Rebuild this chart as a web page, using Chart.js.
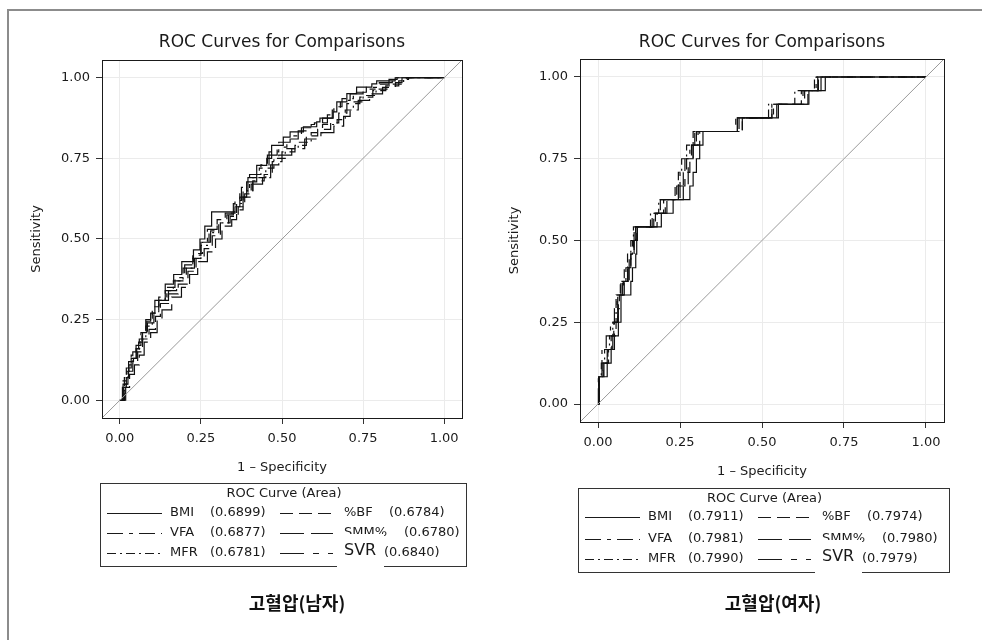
<!DOCTYPE html>
<html>
<head>
<meta charset="utf-8">
<script src="https://cdn.jsdelivr.net/npm/chart.js@4.4.0/dist/chart.umd.min.js"></script>
<style>
    html, body { margin: 0; padding: 0; background: #fff; }
    body { width: 982px; height: 640px; position: relative; overflow: hidden; }
    .frame { position: absolute; left: 7px; top: 9px; width: 1000px; height: 700px; border: 2px solid #8c8c8c; }
    canvas { position: absolute; top: 0; }
    #menChart { left: 0; }
    #womenChart { left: 491px; }
</style>
</head>
<body>
<div class="frame"></div>
<canvas id="menChart" width="491" height="640"></canvas>
<canvas id="womenChart" width="491" height="640"></canvas>
<script>
// series order: BMI, VFA, MFR (left legend column), %BF, SMM%, SVR (right column)
const seriesNames = ["BMI", "VFA", "MFR", "%BF", "SMM%", "SVR"];
const menArea = [0.6899, 0.6877, 0.6781, 0.6784, 0.6780, 0.6840];
const womenArea = [0.7911, 0.7981, 0.7990, 0.7974, 0.7980, 0.7979];
const tickValues = [0, 0.25, 0.5, 0.75, 1];
const chanceLine = [[-0.1, -0.1], [1.1, 1.1]];

// (1 - specificity, sensitivity) vertices
const menBMI = [[0,0],[0.012,0],[0.012,0.04],[0.02,0.07],[0.027,0.12],[0.042,0.13],[0.05,0.16],[0.058,0.18],[0.07,0.21],[0.083,0.245],[0.095,0.27],[0.108,0.31],[0.14,0.36],[0.166,0.39],[0.191,0.43],[0.227,0.466],[0.247,0.50],[0.262,0.54],[0.283,0.584],[0.355,0.60],[0.37,0.63],[0.391,0.677],[0.422,0.728],[0.453,0.75],[0.468,0.79],[0.504,0.816],[0.525,0.832],[0.566,0.848],[0.607,0.863],[0.617,0.875],[0.658,0.894],[0.669,0.925],[0.70,0.951],[0.73,0.971],[0.777,0.981],[0.792,0.99],[0.849,1.0],[1,1]];
const menVFA = [[0,0],[0.008,0],[0.008,0.06],[0.02,0.10],[0.035,0.14],[0.05,0.17],[0.065,0.21],[0.08,0.25],[0.10,0.29],[0.12,0.32],[0.145,0.35],[0.17,0.38],[0.20,0.42],[0.225,0.45],[0.25,0.49],[0.27,0.53],[0.30,0.56],[0.325,0.58],[0.355,0.62],[0.375,0.66],[0.40,0.70],[0.435,0.73],[0.46,0.77],[0.49,0.80],[0.525,0.82],[0.56,0.845],[0.60,0.86],[0.64,0.885],[0.66,0.91],[0.685,0.935],[0.72,0.955],[0.76,0.97],[0.80,0.985],[0.84,1.0],[1,1]];
const menMFR = [[0,0],[0.014,0],[0.014,0.07],[0.028,0.11],[0.04,0.15],[0.06,0.19],[0.08,0.23],[0.10,0.27],[0.12,0.31],[0.14,0.34],[0.165,0.37],[0.195,0.41],[0.225,0.44],[0.25,0.48],[0.275,0.52],[0.305,0.55],[0.335,0.58],[0.36,0.61],[0.38,0.65],[0.41,0.69],[0.45,0.72],[0.475,0.75],[0.51,0.78],[0.55,0.80],[0.59,0.83],[0.625,0.855],[0.67,0.87],[0.695,0.90],[0.72,0.925],[0.75,0.945],[0.79,0.965],[0.83,0.98],[0.875,0.995],[0.89,1.0],[1,1]];
const menBF = [[0,0],[0.015,0],[0.015,0.05],[0.025,0.09],[0.04,0.12],[0.055,0.15],[0.07,0.19],[0.09,0.22],[0.11,0.26],[0.125,0.30],[0.15,0.33],[0.18,0.36],[0.21,0.40],[0.235,0.44],[0.26,0.47],[0.285,0.51],[0.31,0.55],[0.34,0.57],[0.365,0.60],[0.385,0.64],[0.41,0.68],[0.445,0.70],[0.47,0.74],[0.50,0.77],[0.54,0.79],[0.575,0.82],[0.61,0.84],[0.65,0.86],[0.675,0.89],[0.70,0.92],[0.74,0.94],[0.78,0.96],[0.82,0.975],[0.86,0.99],[0.885,1.0],[1,1]];
const menSMM = [[0,0],[0.018,0],[0.018,0.04],[0.03,0.08],[0.045,0.11],[0.06,0.14],[0.075,0.18],[0.095,0.21],[0.115,0.25],[0.13,0.28],[0.16,0.32],[0.19,0.35],[0.215,0.39],[0.24,0.43],[0.27,0.46],[0.295,0.50],[0.315,0.54],[0.345,0.56],[0.36,0.59],[0.38,0.63],[0.405,0.67],[0.44,0.69],[0.465,0.73],[0.49,0.76],[0.53,0.78],[0.57,0.81],[0.62,0.83],[0.66,0.85],[0.69,0.88],[0.71,0.90],[0.735,0.93],[0.77,0.95],[0.81,0.97],[0.85,0.985],[0.87,1.0],[1,1]];
const menSVR = [[0,0],[0.01,0],[0.01,0.05],[0.022,0.09],[0.035,0.13],[0.052,0.16],[0.068,0.20],[0.085,0.24],[0.105,0.28],[0.12,0.31],[0.15,0.34],[0.175,0.37],[0.205,0.41],[0.23,0.455],[0.255,0.49],[0.28,0.525],[0.30,0.56],[0.33,0.575],[0.35,0.61],[0.37,0.645],[0.395,0.69],[0.43,0.72],[0.455,0.76],[0.485,0.785],[0.515,0.81],[0.55,0.835],[0.59,0.855],[0.625,0.875],[0.655,0.90],[0.68,0.93],[0.71,0.95],[0.75,0.965],[0.79,0.98],[0.83,0.995],[0.855,1.0],[1,1]];

const womenBMI = [[0,0],[0.004,0],[0.004,0.0833],[0.028,0.125],[0.04,0.1667],[0.05,0.2083],[0.062,0.25],[0.07,0.2917],[0.07,0.3333],[0.10,0.375],[0.105,0.4167],[0.115,0.4583],[0.118,0.5],[0.12,0.5417],[0.193,0.5833],[0.229,0.625],[0.28,0.6667],[0.29,0.7083],[0.30,0.75],[0.31,0.7917],[0.32,0.8333],[0.425,0.875],[0.55,0.9167],[0.643,0.9583],[0.693,1.0],[1,1]];
const womenVFA = [[0,0],[0.001,0],[0.001,0.0833],[0.012,0.1667],[0.025,0.2083],[0.038,0.25],[0.05,0.2917],[0.058,0.3333],[0.07,0.375],[0.085,0.4167],[0.095,0.4583],[0.105,0.5],[0.11,0.5417],[0.165,0.5833],[0.19,0.625],[0.24,0.6667],[0.25,0.7083],[0.265,0.75],[0.28,0.7917],[0.295,0.8333],[0.43,0.875],[0.53,0.9167],[0.63,0.9583],[0.665,1.0],[1,1]];
const womenMFR = [[0,0],[0.002,0],[0.002,0.0833],[0.01,0.125],[0.02,0.1667],[0.035,0.2083],[0.045,0.25],[0.055,0.3333],[0.068,0.375],[0.08,0.4167],[0.09,0.4583],[0.10,0.5],[0.108,0.5417],[0.16,0.5833],[0.185,0.625],[0.235,0.6667],[0.245,0.7083],[0.255,0.75],[0.27,0.7917],[0.29,0.8333],[0.44,0.875],[0.52,0.9167],[0.60,0.9583],[0.66,1.0],[1,1]];
const womenBF = [[0,0],[0.002,0],[0.002,0.0833],[0.015,0.125],[0.03,0.1667],[0.04,0.2083],[0.048,0.25],[0.06,0.3333],[0.075,0.375],[0.09,0.4167],[0.10,0.4583],[0.11,0.5],[0.115,0.5417],[0.17,0.5833],[0.20,0.625],[0.245,0.6667],[0.26,0.7083],[0.27,0.75],[0.285,0.7917],[0.30,0.8333],[0.44,0.875],[0.53,0.9167],[0.62,0.9583],[0.672,1.0],[1,1]];
const womenSMM = [[0,0],[0.003,0],[0.003,0.0833],[0.018,0.125],[0.032,0.1667],[0.045,0.2083],[0.055,0.25],[0.06,0.2917],[0.065,0.3333],[0.08,0.375],[0.095,0.4167],[0.10,0.4583],[0.11,0.5],[0.118,0.5417],[0.18,0.5833],[0.21,0.625],[0.26,0.6667],[0.275,0.7083],[0.28,0.75],[0.29,0.7917],[0.31,0.8333],[0.425,0.875],[0.545,0.9167],[0.64,0.9583],[0.68,1.0],[1,1]];
const womenSVR = [[0,0],[0.002,0],[0.002,0.0833],[0.016,0.125],[0.028,0.1667],[0.042,0.2083],[0.05,0.25],[0.062,0.3333],[0.078,0.375],[0.092,0.4167],[0.1,0.4583],[0.108,0.5],[0.115,0.5417],[0.175,0.5833],[0.205,0.625],[0.25,0.6667],[0.265,0.7083],[0.275,0.75],[0.29,0.7917],[0.305,0.8333],[0.42,0.875],[0.535,0.9167],[0.625,0.9583],[0.67,1.0],[1,1]];

const menSeries = [menBMI, menVFA, menMFR, menBF, menSMM, menSVR];
const womenSeries = [womenBMI, womenVFA, womenMFR, womenBF, womenSMM, womenSVR];

// line patterns, same order as seriesNames
const dashStyles = [[], [16, 6, 4, 6], [9, 4, 2, 4], [13, 6], [24, 7], [24, 9, 6, 9]];

const FONT = "'DejaVu Sans', 'Noto Sans', sans-serif";
Chart.defaults.font.family = FONT;
Chart.defaults.font.size = 13;
Chart.defaults.color = "#1a1a1a";

function toPoints(pairs) {
    return pairs.map(function (p) {
        return { x: p[0], y: p[1] };
    });
}

const decorPlugin = {
    id: "decor",
    afterDatasetsDraw: function (chart) {
        const ctx = chart.ctx;
        const a = chart.chartArea;
        ctx.save();
        ctx.strokeStyle = "#1a1a1a";
        ctx.lineWidth = 1;
        ctx.strokeRect(a.left + 0.5, a.top + 0.5, a.right - a.left, a.bottom - a.top);
        ctx.restore();
    },
    afterDraw: function (chart) {
        const ctx = chart.ctx;
        const a = chart.chartArea;
        const lay = chart.options.plugins.decor;

        ctx.save();
        ctx.fillStyle = "#1a1a1a";
        ctx.textBaseline = "middle";
        ctx.textAlign = "center";
        ctx.font = "17px " + FONT;
        ctx.fillText("ROC Curves for Comparisons", (a.left + a.right) / 2, lay.titleY);

        drawLegend(ctx, lay.legend, lay.areas);

        ctx.fillStyle = "#111";
        ctx.textAlign = "center";
        ctx.font = "bold 18px 'Noto Sans CJK KR', sans-serif";
        ctx.fillText(lay.label, lay.labelX, lay.labelY);
        ctx.restore();
    },
};

function drawLegend(ctx, lg, areas) {
    ctx.strokeStyle = "#333";
    ctx.lineWidth = 1;
    ctx.strokeRect(lg.x + 0.5, lg.y + 0.5, lg.w, lg.h);

    ctx.fillStyle = "#1a1a1a";
    ctx.font = "13px " + FONT;
    ctx.textAlign = "center";
    ctx.fillText("ROC Curve (Area)", lg.x + lg.w / 2 + 1, lg.y + 11);

    const lineX = [[7, 62], [180, 233]];
    const labelX = [70, 244];
    const valueX = [110, 110, 110, 289, 304, 284];

    seriesNames.forEach(function (name, i) {
        const col = Math.floor(i / 3);
        const row = i % 3;
        const y = lg.y + lg.rows[row];

        if (name === "SVR") {
            // white patch that hides part of the box (as in the original)
            ctx.fillStyle = "#fff";
            ctx.fillRect(lg.x + 237, lg.y + lg.rows[1] + 1, 47, lg.h - lg.rows[1] + 2);
        }

        ctx.strokeStyle = "#1a1a1a";
        ctx.setLineDash(dashStyles[i]);
        ctx.beginPath();
        ctx.moveTo(lg.x + lineX[col][0], Math.round(y) + 0.5);
        ctx.lineTo(lg.x + lineX[col][1], Math.round(y) + 0.5);
        ctx.stroke();
        ctx.setLineDash([]);

        ctx.fillStyle = "#1a1a1a";
        ctx.textAlign = "left";
        if (name === "SVR") {
            ctx.font = "16px " + FONT;
            ctx.fillText(name, lg.x + labelX[col], y - 2);
        } else {
            ctx.font = "13px " + FONT;
            ctx.fillText(name, lg.x + labelX[col], y);
        }
        ctx.font = "13px " + FONT;
        ctx.fillText("(" + areas[i].toFixed(4) + ")", lg.x + valueX[i], y);
    });
}

function buildChart(canvasId, series, areas, lay) {
    const datasets = series.map(function (pairs, i) {
        return {
            label: seriesNames[i],
            data: toPoints(pairs),
            showLine: true,
            stepped: "before",
            borderColor: "#111",
            borderWidth: 1.2,
            borderDash: dashStyles[i],
            pointRadius: 0,
            fill: false,
        };
    });
    datasets.unshift({
        label: "chance",
        data: toPoints(chanceLine),
        showLine: true,
        borderColor: "#9a9a9a",
        borderWidth: 1,
        pointRadius: 0,
        fill: false,
    });

    const axisTicks = function (scale) {
        scale.ticks = tickValues.map(function (v) {
            return { value: v };
        });
    };

    return new Chart(document.getElementById(canvasId), {
        type: "scatter",
        data: { datasets: datasets },
        plugins: [decorPlugin],
        options: {
            responsive: false,
            animation: false,
            events: [],
            layout: {
                padding: { left: 0, right: lay.padRight, top: lay.padTop, bottom: lay.padBottom },
            },
            scales: {
                x: {
                    type: "linear",
                    min: -0.055,
                    max: 1.055,
                    afterBuildTicks: axisTicks,
                    afterFit: function (scale) {
                        scale.height = lay.xAxisHeight;
                    },
                    border: { display: false },
                    grid: { color: "#ebebeb", tickColor: "#333", tickLength: 6 },
                    ticks: {
                        autoSkip: false,
                        maxRotation: 0,
                        padding: 7,
                        callback: function (v) {
                            return v.toFixed(2);
                        },
                    },
                    title: {
                        display: true,
                        text: "1 – Specificity",
                        font: { size: 13 },
                        padding: { top: 0, bottom: 5 },
                    },
                },
                y: {
                    type: "linear",
                    min: -0.055,
                    max: 1.055,
                    afterBuildTicks: axisTicks,
                    afterFit: function (scale) {
                        scale.width = lay.yAxisWidth;
                    },
                    border: { display: false },
                    grid: { color: "#ebebeb", tickColor: "#333", tickLength: 6 },
                    ticks: {
                        autoSkip: false,
                        padding: 6,
                        callback: function (v) {
                            return v.toFixed(2);
                        },
                    },
                    title: {
                        display: true,
                        text: "Sensitivity",
                        font: { size: 13 },
                        padding: { top: lay.yTitlePad, bottom: 0 },
                    },
                },
            },
            plugins: {
                legend: { display: false },
                tooltip: { enabled: false },
                decor: {
                    titleY: 43,
                    label: lay.label,
                    labelX: lay.labelX,
                    labelY: 603,
                    legend: lay.legend,
                    areas: areas,
                },
            },
        },
    });
}

buildChart("menChart", menSeries, menArea, {
    padRight: 29,
    padTop: 60,
    padBottom: 160,
    xAxisHeight: 62,
    yAxisWidth: 102,
    yTitlePad: 29,
    label: "고혈압(남자)",
    labelX: 297,
    legend: { x: 100, y: 483, w: 366, h: 83, rows: [30, 50, 70] },
});

buildChart("womenChart", womenSeries, womenArea, {
    padRight: 38,
    padTop: 59,
    padBottom: 156,
    xAxisHeight: 62,
    yAxisWidth: 89,
    yTitlePad: 16,
    label: "고혈압(여자)",
    labelX: 282,
    legend: { x: 87, y: 488, w: 371, h: 84, rows: [29, 51, 71] },
});
</script>
</body>
</html>
